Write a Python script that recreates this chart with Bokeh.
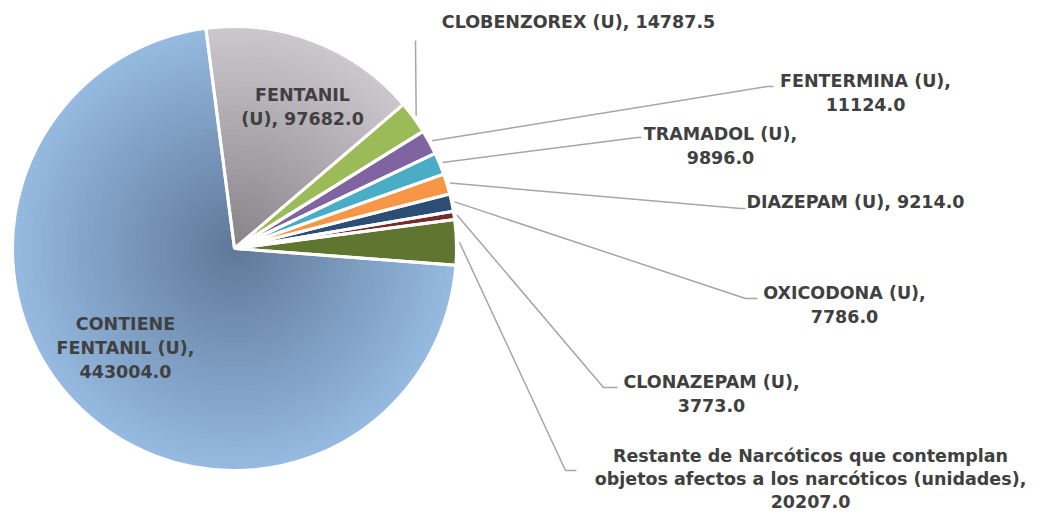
import numpy as np
from bokeh.plotting import figure
from bokeh.models import Range1d
from bokeh.embed import file_html
from bokeh.resources import INLINE
from bokeh.core.properties import value

# ---------------- data ----------------
categories = [
    "CONTIENE FENTANIL (U)",
    "FENTANIL (U)",
    "CLOBENZOREX (U)",
    "FENTERMINA (U)",
    "TRAMADOL (U)",
    "DIAZEPAM (U)",
    "OXICODONA (U)",
    "CLONAZEPAM (U)",
    "Restante de Narcóticos que contemplan objetos afectos a los narcóticos (unidades)",
]
values = [443004.0, 97682.0, 14787.5, 11124.0, 9896.0, 9214.0, 7786.0, 3773.0, 20207.0]

# ---------------- style / layout ----------------
colors = ["#8fb4dc", "#c6c1c6", "#9bbb59", "#8064a2", "#4bacc6",
          "#f79646", "#2c4d75", "#772c2a", "#5f7530"]
# radial gradients (center colour, edge colour) for the two big slices
gradients = {0: ((94, 120, 152), (149, 185, 224)),
             1: ((135, 130, 135), (204, 199, 204))}
wrap_width = [14, 12, 30, 16, 14, 30, 16, 16, 44]
# label centre (screen px) of first line
label_pos = [(125, 323), (302, 94), (578, 21), (865, 80), (720, 133),
             (855, 201), (844, 292), (711, 381), (810, 455)]
line_steps = [24, 24, 24, 24, 24, 24, 24, 24, 23]
# leader line way-points (screen px), None = label inside slice
leaders = [None, None,
           [(415, 40)],
           [(767, 86), (773, 86)],
           [(637, 137), (641, 137)],
           [(740, 208), (745, 208)],
           [(745, 298), (757, 298)],
           [(603, 387), (617, 387)],
           [(565, 470), (576, 470)]]
CX, CY, R = 234, 248, 222       # pie centre / radius (screen px)
START_DEG = 94.3                # clockwise from 12 o'clock, first slice
FONT = "DejaVu Sans"
FONT_SIZE = "17.5px"
TEXT_COLOR = "#404040"

W, H = 1030, 513
def Y(ys):  # screen y -> data y
    return H - ys

p = figure(width=W, height=H, output_backend="svg", toolbar_location=None,
           x_range=Range1d(0, W), y_range=Range1d(0, H),
           x_axis_type=None, y_axis_type=None, min_border=0)
p.grid.visible = False
p.outline_line_color = None
p.background_fill_color = "white"
p.border_fill_color = "white"

total = sum(values)
c_start = []
c_end = []
acc = START_DEG
for v in values:
    c_start.append(acc)
    acc += v / total * 360.0
    c_end.append(acc)

def math_angles(c0, c1):
    return np.radians(90 - c1), np.radians(90 - c0)

# slices
for i, v in enumerate(values):
    a0, a1 = math_angles(c_start[i], c_end[i])
    if i in gradients:
        dark, light = gradients[i]
        n = 45
        for k in range(n, 0, -1):
            t = k / n
            col = tuple(int(round(d + (l - d) * t)) for d, l in zip(dark, light))
            p.wedge(x=CX, y=Y(CY), radius=R * t, start_angle=a0, end_angle=a1,
                    fill_color="#%02x%02x%02x" % col, line_color=None)
    else:
        p.wedge(x=CX, y=Y(CY), radius=R, start_angle=a0, end_angle=a1,
                fill_color=colors[i], line_color=None)

# white slice borders
for i, v in enumerate(values):
    a0, a1 = math_angles(c_start[i], c_end[i])
    p.wedge(x=CX, y=Y(CY), radius=R, start_angle=a0, end_angle=a1,
            fill_color=None, line_color="white", line_width=3)

# leader lines
for i, pts in enumerate(leaders):
    if pts is None:
        continue
    mid = np.radians((c_start[i] + c_end[i]) / 2)
    sx = CX + (R + 3) * np.sin(mid)
    sy = CY - (R + 3) * np.cos(mid)
    xs = [sx] + [q[0] for q in pts]
    ys = [Y(sy)] + [Y(q[1]) for q in pts]
    p.line(xs, ys, line_color="#a6a6a6", line_width=1.5)

# labels
def wrap(text, width):
    words = text.split(" ")
    lines, cur = [], ""
    for w in words:
        cand = w if not cur else cur + " " + w
        if len(cand) <= width or not cur:
            cur = cand
        else:
            lines.append(cur)
            cur = w
    lines.append(cur)
    return lines

for i, (cat, v) in enumerate(zip(categories, values)):
    lines = wrap(f"{cat}, {v:.1f}", wrap_width[i])
    lx, ly = label_pos[i]
    for j, line in enumerate(lines):
        p.text(x=[lx], y=[Y(ly + j * line_steps[i])], text=[line],
               text_align="center", text_baseline="middle",
               text_font=value(FONT), text_font_style="bold",
               text_font_size=FONT_SIZE, text_color=TEXT_COLOR)

open("out.html", "w").write(file_html(p, INLINE))
